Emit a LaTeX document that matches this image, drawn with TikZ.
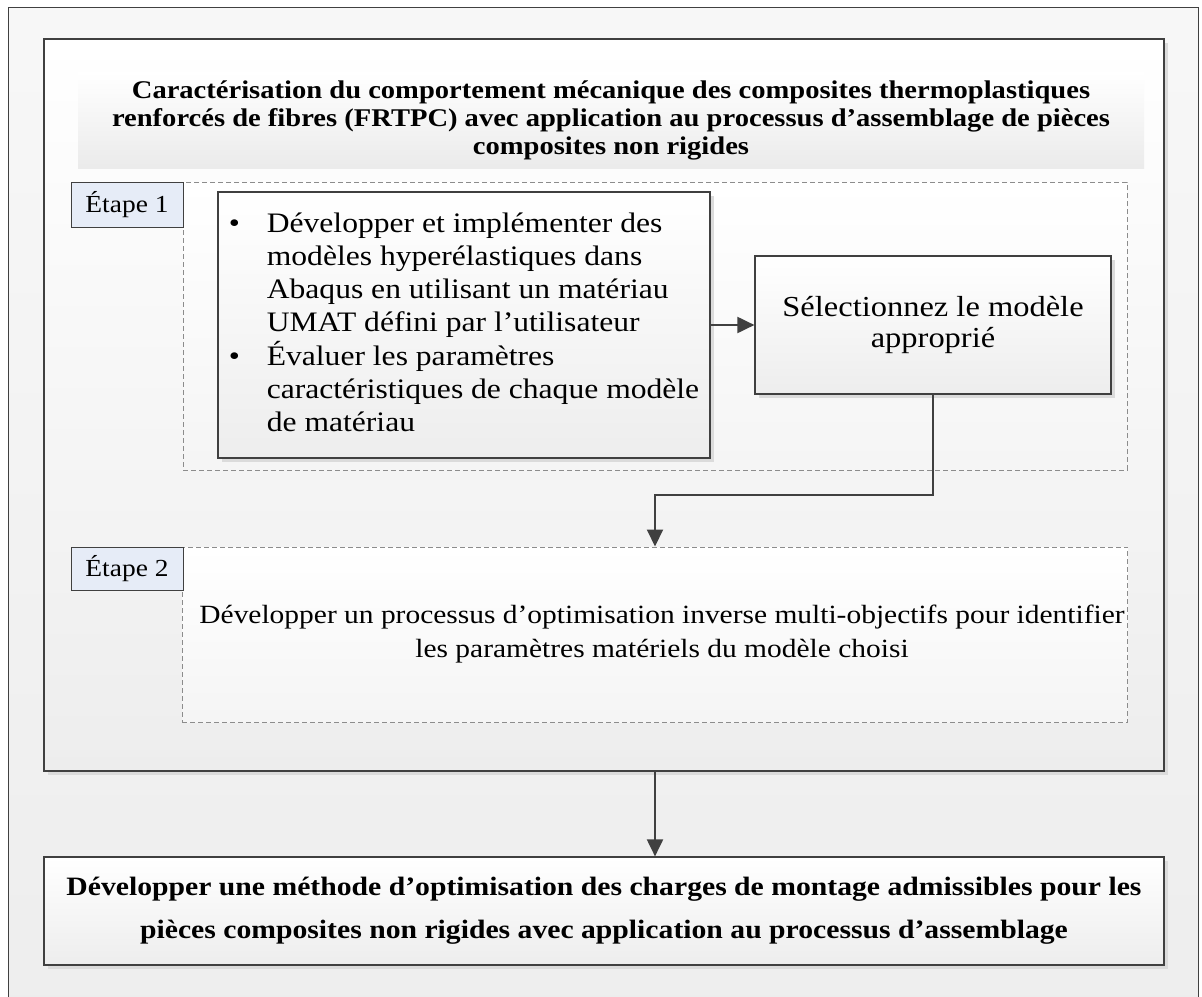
\documentclass[tikz,border=0pt]{standalone}
\usepackage{fontspec}
\setmainfont{Liberation Serif}[FakeStretch=1.12]
\usetikzlibrary{arrows.meta,shadows}

\definecolor{trait}{HTML}{404040}
\definecolor{bleupale}{HTML}{E6ECF7}
\definecolor{pointille}{HTML}{8C8C8C}

\tikzset{
  boite/.style={draw=trait, line width=1.2pt, top color=white, bottom color=black!7,
    drop shadow={shadow xshift=4pt, shadow yshift=-4pt, fill=black!14, opacity=1}},
  zone/.style={draw=pointille, dash pattern=on 5pt off 3pt, line width=1pt,
    top color=white, bottom color=black!4},
  etiquette/.style={draw=trait, line width=1pt, fill=bleupale,
    font=\fontsize{24.5}{28}\selectfont},
  fleche/.style={draw=trait, line width=2pt, -{Triangle[length=17pt,width=16pt]}},
}

\begin{document}
\begin{tikzpicture}[x=1pt,y=-1pt]
\useasboundingbox (0,0) rectangle (1202,996);

% Cadre exterieur
\draw[trait, line width=1pt, top color=black!3, bottom color=black!7]
(8,7) rectangle (1198,1030);

% Cadre principal
\node[boite, minimum width=1120pt, minimum height=732pt] (cadre) at (604,405) {};

\node[inner sep=0pt, minimum width=1066pt, minimum height=96pt,
top color=white, bottom color=black!8, align=center,
font=\fontsize{25.5}{28}\selectfont\bfseries] (titre) at (611,120)
{Caractérisation du comportement mécanique des composites thermoplastiques\\
renforcés de fibres (FRTPC) avec application au processus d'assemblage de pièces\\
composites non rigides};

% Etape 1
\node[zone, minimum width=944pt, minimum height=288pt] (etapeun) at (655,326) {};
\node[etiquette, minimum width=112pt, minimum height=45pt] (labelun) at (127,204.5)
{Étape 1};

\node[boite, minimum width=492pt, minimum height=266pt,
font=\fontsize{28.2}{33}\selectfont] (puces) at (464,325)
{\raisebox{9pt}{\begin{tabular}{@{}p{38pt}@{}l@{}}
\textbullet & Développer et implémenter des\\
 & modèles hyperélastiques dans\\
 & Abaqus en utilisant un matériau\\
 & UMAT défini par l'utilisateur\\
\textbullet & Évaluer les paramètres\\
 & caractéristiques de chaque modèle\\
 & de matériau
\end{tabular}}};

\node[boite, minimum width=356pt, minimum height=138pt, align=center,
font=\fontsize{29}{31}\selectfont] (choix) at (933,325)
{Sélectionnez le modèle\\approprié};

% Etape 2
\node[zone, minimum width=944pt, minimum height=175pt, align=center,
font=\fontsize{26.3}{34}\selectfont] (etapedeux) at (655,634.5)
{\hspace*{14pt}Développer un processus d'optimisation inverse multi-objectifs pour identifier\\
\hspace*{14pt}les paramètres matériels du modèle choisi};
\node[etiquette, minimum width=112pt, minimum height=43pt] (labeldeux) at (127,568.5)
{Étape 2};

% Objectif final
\node[boite, minimum width=1120pt, minimum height=108pt, align=center,
font=\fontsize{26.5}{43}\selectfont\bfseries] (final) at (604,911)
{Développer une méthode d'optimisation des charges de montage admissibles pour les\\
pièces composites non rigides avec application au processus d'assemblage};

% Liaisons
\draw[fleche] (puces.east) -- (choix.west);
\coordinate (coude) at (933,495);
\draw[fleche] (choix.south) -- (coude) -| (etapedeux.north);
\draw[fleche] (etapedeux.north |- cadre.south) -- (etapedeux.north |- final.north);

\end{tikzpicture}
\end{document}
